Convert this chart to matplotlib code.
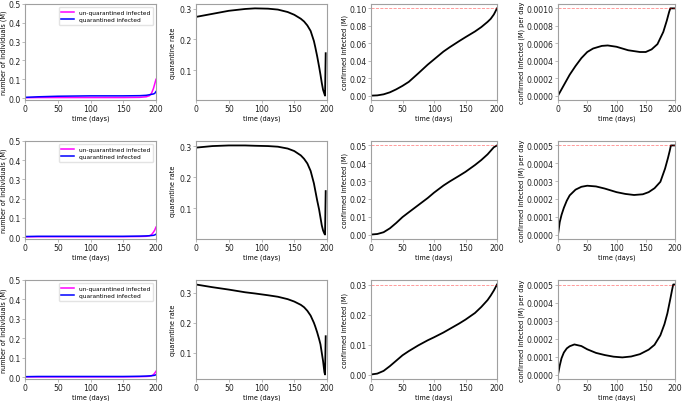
import matplotlib
matplotlib.use("Agg")
import matplotlib.pyplot as plt

W, H = 683, 402

# ---- column 1: infected (M) ----
inf_days = [0, 20, 50, 100, 150, 175, 185, 190, 193, 196, 198, 200]
uq_row1 = [0.002, 0.003, 0.003, 0.003, 0.003, 0.004, 0.007, 0.013, 0.025, 0.05, 0.075, 0.10]
q_row1 = [0.004, 0.007, 0.010, 0.012, 0.012, 0.013, 0.015, 0.018, 0.02, 0.022, 0.025, 0.035]
uq_row2 = [0.001, 0.002, 0.002, 0.002, 0.002, 0.003, 0.004, 0.007, 0.012, 0.025, 0.036, 0.052]
q_row2 = [0.003, 0.004, 0.004, 0.004, 0.004, 0.005, 0.006, 0.007, 0.008, 0.009, 0.011, 0.015]
uq_row3 = [0.001, 0.001, 0.001, 0.001, 0.001, 0.002, 0.003, 0.004, 0.006, 0.012, 0.02, 0.03]
q_row3 = [0.002, 0.003, 0.003, 0.003, 0.003, 0.004, 0.005, 0.006, 0.007, 0.008, 0.009, 0.012]

# ---- column 2: quarantine rate ----
rate_days = [0, 25, 50, 75, 90, 110, 125, 140, 150, 160, 165, 170, 175, 180, 182, 185, 188, 190, 192, 194, 196, 197, 198]
rate_row1 = [0.274, 0.284, 0.294, 0.300, 0.302, 0.301, 0.298, 0.290, 0.281, 0.268, 0.259, 0.246, 0.228, 0.195, 0.176, 0.145, 0.110, 0.085, 0.058, 0.035, 0.022, 0.016, 0.155]
rate_row2 = [0.295, 0.300, 0.302, 0.302, 0.301, 0.300, 0.298, 0.292, 0.284, 0.270, 0.259, 0.244, 0.220, 0.180, 0.158, 0.125, 0.095, 0.070, 0.045, 0.028, 0.018, 0.015, 0.155]
rate_row3 = [0.328, 0.319, 0.311, 0.302, 0.298, 0.292, 0.287, 0.279, 0.271, 0.260, 0.252, 0.240, 0.224, 0.200, 0.188, 0.168, 0.145, 0.128, 0.100, 0.072, 0.035, 0.027, 0.155]

# ---- column 3: confirmed infected (M) ----
conf_days = [0, 10, 20, 30, 40, 50, 60, 75, 90, 100, 115, 125, 140, 150, 165, 175, 185, 190, 195, 200]
conf_row1 = [0.0, 0.0003, 0.0015, 0.0038, 0.0072, 0.0112, 0.0158, 0.0255, 0.0355, 0.0415, 0.0505, 0.0555, 0.0625, 0.0670, 0.0735, 0.0785, 0.0845, 0.0880, 0.0930, 0.100]
conf_row2 = [0.0, 0.0003, 0.0013, 0.0035, 0.0065, 0.0098, 0.0125, 0.0165, 0.0205, 0.0235, 0.0275, 0.0298, 0.0330, 0.0352, 0.0390, 0.0418, 0.0450, 0.0470, 0.0490, 0.050]
conf_row3 = [0.0, 0.0003, 0.0012, 0.0028, 0.0046, 0.0064, 0.0078, 0.0097, 0.0114, 0.0124, 0.0140, 0.0152, 0.0170, 0.0183, 0.0205, 0.0225, 0.0248, 0.0263, 0.0280, 0.030]

# ---- column 4: confirmed infected (M) per day ----
pd_days_1 = [0, 10, 20, 30, 40, 50, 60, 75, 85, 100, 120, 140, 150, 160, 170, 180, 186, 190, 192, 200]
pd_row1 = [0.0, 0.00012, 0.00024, 0.00034, 0.00043, 0.00050, 0.00054, 0.00057, 0.000575, 0.00056, 0.00052, 0.00050, 0.00050, 0.00053, 0.00059, 0.00073, 0.00086, 0.00096, 0.0010, 0.0010]
pd_days_2 = [0, 3, 6, 10, 15, 20, 30, 40, 50, 65, 80, 100, 115, 130, 145, 155, 165, 175, 183, 188, 191, 193, 200]
pd_row2 = [0.0, 0.00007, 0.00011, 0.00015, 0.00019, 0.00022, 0.000252, 0.000268, 0.000274, 0.00027, 0.000258, 0.000238, 0.000228, 0.000222, 0.000226, 0.000238, 0.00026, 0.000296, 0.00037, 0.00043, 0.00047, 0.0005, 0.0005]
pd_days_3 = [0, 3, 6, 10, 15, 20, 28, 40, 50, 65, 80, 95, 110, 125, 140, 155, 165, 175, 182, 187, 192, 195, 197, 200]
pd_row3 = [0.0, 0.00005, 0.00009, 0.000122, 0.000145, 0.000157, 0.000167, 0.000158, 0.00014, 0.00012, 0.000108, 0.000099, 0.000095, 0.0001, 0.000113, 0.000138, 0.000165, 0.000218, 0.00028, 0.00034, 0.00042, 0.00047, 0.0005, 0.0005]

targets_conf = [0.10, 0.05, 0.03]
targets_pd = [0.0010, 0.0005, 0.0005]

inf_rows = [(uq_row1, q_row1), (uq_row2, q_row2), (uq_row3, q_row3)]
rate_rows = [rate_row1, rate_row2, rate_row3]
conf_rows = [conf_row1, conf_row2, conf_row3]
pd_rows = [(pd_days_1, pd_row1), (pd_days_2, pd_row2), (pd_days_3, pd_row3)]

# pixel boxes of the panels
col_px = [(25, 156), (196, 327), (371, 497), (558, 675)]
row_px = [(5, 101), (142, 240), (281, 380)]

TICK_FS = 5.6
LAB_FS = 4.7
spine_col = '#a0a0a0'

fig = plt.figure(figsize=(W / 100, H / 100), dpi=100)


def make_ax(r, c):
    x0, x1 = col_px[c]
    y0, y1 = row_px[r]
    ax = fig.add_axes([x0 / W, 1 - y1 / H, (x1 - x0) / W, (y1 - y0) / H])
    for s in ax.spines.values():
        s.set_color(spine_col)
        s.set_linewidth(0.8)
    ax.tick_params(labelsize=TICK_FS, length=2, width=0.5, color=spine_col, pad=1.2, labelcolor='#222222')
    ax.set_xlim(0, 200)
    ax.set_xticks([0, 50, 100, 150, 200])
    ax.set_xlabel('time (days)', fontsize=LAB_FS, labelpad=0.5)
    return ax


for r in range(3):
    # infected
    ax = make_ax(r, 0)
    uq, q = inf_rows[r]
    ax.plot(inf_days, uq, color='magenta', lw=1.1, label='un-quarantined infected')
    ax.plot(inf_days, q, color='blue', lw=1.1, label='quarantined infected')
    ax.set_ylim(-0.01, 0.5)
    ax.set_ylabel('number of individuals (M)', fontsize=LAB_FS, labelpad=1)
    ax.legend(loc='upper right', fontsize=4.2, frameon=True, handlelength=2.2,
              borderpad=0.5, labelspacing=0.4, edgecolor='#dddddd', fancybox=True)

    # quarantine rate
    ax = make_ax(r, 1)
    ax.plot(rate_days, rate_rows[r], color='black', lw=1.3)
    ax.set_yticks([0.1, 0.2, 0.3])
    ax.set_ylabel('quarantine rate', fontsize=LAB_FS, labelpad=2)

    # confirmed infected
    ax = make_ax(r, 2)
    ax.plot(conf_days, conf_rows[r], color='black', lw=1.3)
    ax.axhline(targets_conf[r], color='red', lw=0.6, ls='--', alpha=0.45)
    ax.set_ylabel('confirmed infected (M)', fontsize=LAB_FS, labelpad=1)
    if r == 0:
        ax.set_yticks([0.0, 0.02, 0.04, 0.06, 0.08, 0.10])
        ax.set_yticklabels(['0.00', '0.02', '0.04', '0.06', '0.08', '0.10'])
    elif r == 1:
        ax.set_yticks([0.0, 0.01, 0.02, 0.03, 0.04, 0.05])
        ax.set_yticklabels(['0.00', '0.01', '0.02', '0.03', '0.04', '0.05'])
    else:
        ax.set_yticks([0.0, 0.01, 0.02, 0.03])
        ax.set_yticklabels(['0.00', '0.01', '0.02', '0.03'])

    # confirmed infected per day
    ax = make_ax(r, 3)
    d, v = pd_rows[r]
    ax.plot(d, v, color='black', lw=1.3)
    ax.axhline(targets_pd[r], color='red', lw=0.6, ls='--', alpha=0.45)
    ax.set_ylabel('confirmed infected (M) per day', fontsize=LAB_FS, labelpad=1)
    if r == 0:
        ax.set_yticks([0.0, 0.0002, 0.0004, 0.0006, 0.0008, 0.0010])
        ax.set_yticklabels(['0.0000', '0.0002', '0.0004', '0.0006', '0.0008', '0.0010'])
    else:
        ax.set_yticks([0.0, 0.0001, 0.0002, 0.0003, 0.0004, 0.0005])
        ax.set_yticklabels(['0.0000', '0.0001', '0.0002', '0.0003', '0.0004', '0.0005'])

fig.savefig('out.png', dpi=100)
